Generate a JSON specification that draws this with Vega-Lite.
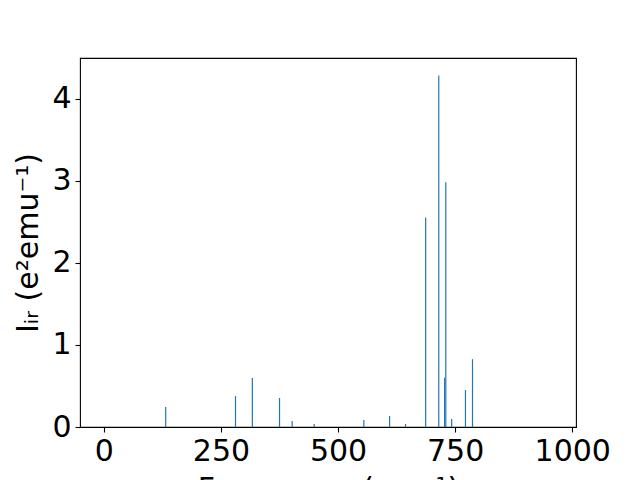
{
  "$schema": "https://vega.github.io/schema/vega-lite/v6.json",
  "width": 496,
  "height": 369,
  "autosize": {"type": "none"},
  "padding": {"left": 80, "top": 58, "right": 64, "bottom": 53},
  "background": "white",
  "config": {
    "view": {"stroke": "black", "strokeWidth": 1.1},
    "font": "DejaVu Sans",
    "axis": {
      "grid": false,
      "domain": false,
      "tickColor": "black",
      "tickSize": 5,
      "tickWidth": 1.1,
      "labelFont": "DejaVu Sans",
      "labelFontSize": 30,
      "labelColor": "black",
      "labelPadding": 4,
      "titleFont": "DejaVu Sans",
      "titleFontSize": 30,
      "titleFontWeight": "normal",
      "titleColor": "black"
    }
  },
  "data": {
    "values": [
      {"freq": 132, "intensity": 0.243},
      {"freq": 281, "intensity": 0.377},
      {"freq": 317, "intensity": 0.596},
      {"freq": 375, "intensity": 0.353},
      {"freq": 402, "intensity": 0.073},
      {"freq": 449, "intensity": 0.036},
      {"freq": 555, "intensity": 0.085},
      {"freq": 610, "intensity": 0.134},
      {"freq": 644, "intensity": 0.036},
      {"freq": 687, "intensity": 2.55},
      {"freq": 715, "intensity": 4.28},
      {"freq": 727.5, "intensity": 0.6},
      {"freq": 730, "intensity": 2.98},
      {"freq": 742.5, "intensity": 0.097},
      {"freq": 772, "intensity": 0.45},
      {"freq": 787, "intensity": 0.826}
    ]
  },
  "mark": {"type": "rule", "color": "#1f77b4", "strokeWidth": 1.2},
  "encoding": {
    "x": {
      "field": "freq",
      "type": "quantitative",
      "scale": {"domain": [-51, 1008], "nice": false, "zero": false},
      "axis": {"values": [0, 250, 500, 750, 1000], "format": "d", "title": "Frequency (cm⁻¹)", "titlePadding": 8, "labelFlush": false}
    },
    "y": {
      "field": "intensity",
      "type": "quantitative",
      "scale": {"domain": [0, 4.494], "nice": false},
      "axis": {"values": [0, 1, 2, 3, 4], "title": "Iᵢᵣ (e²emu⁻¹)", "titlePadding": 8}
    },
    "y2": {"datum": 0}
  }
}
